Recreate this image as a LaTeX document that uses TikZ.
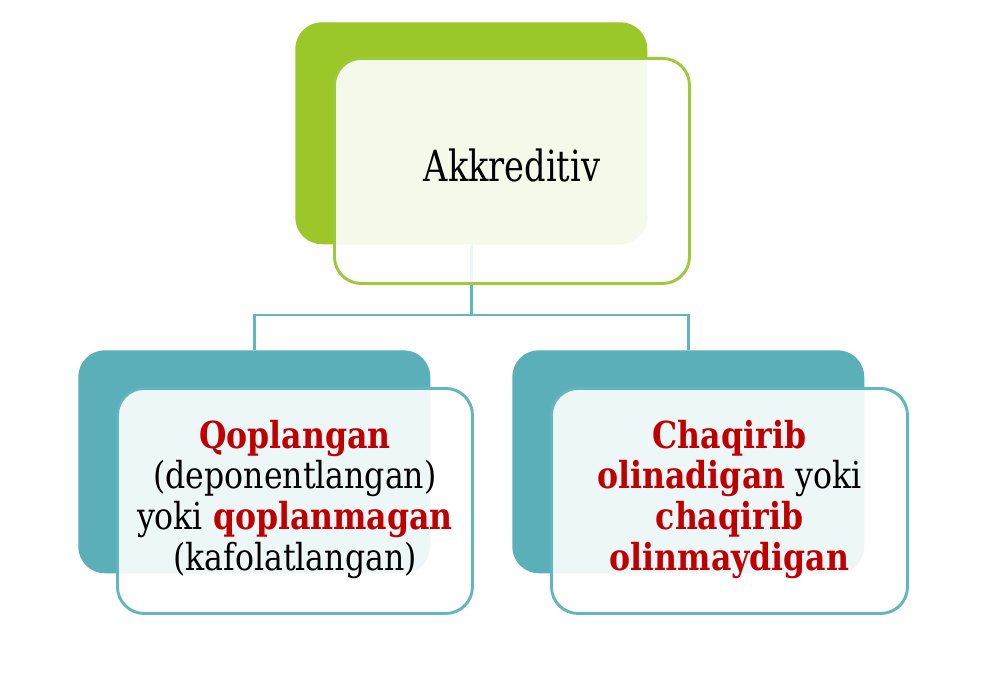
\documentclass[tikz,border=0pt]{standalone}
\usepackage{fontspec}
\setmainfont{DejaVu Serif Condensed}
\usetikzlibrary{positioning}
\definecolor{grn}{RGB}{155,200,40}
\definecolor{grnline}{RGB}{158,202,58}
\definecolor{teal}{RGB}{90,175,185}
\definecolor{tealline}{RGB}{100,182,190}
\definecolor{redtxt}{RGB}{192,0,0}
\tikzset{
  backbox/.style={rounded corners=20, inner sep=0pt, draw=none, anchor=north west},
  frontbox/.style={rounded corners=20, inner sep=0pt, line width=2.2pt, fill=white, fill opacity=0.9, text opacity=1, anchor=north west, align=center},
  conn/.style={draw=tealline, line width=2.2pt}
}
\newcommand{\hlt}[1]{{\bfseries\color{redtxt}#1}}
\newcommand{\stretchtxt}[2]{\scalebox{1}[#1]{\begin{tabular}{@{}c@{}}#2\end{tabular}}}
\begin{document}
\begin{tikzpicture}[x=0.75pt,y=-0.75pt]
\useasboundingbox (0,0) rectangle (1000,692);
% back boxes
\node[backbox, fill=grn, minimum width=352*0.75pt, minimum height=222*0.75pt] (tb) at (295,22) {};
\node[backbox, fill=teal, minimum width=352*0.75pt, minimum height=223*0.75pt] (lb) at (78,350) {};
\node[backbox, fill=teal, minimum width=352*0.75pt, minimum height=223*0.75pt] (rb) at (512,350) {};
% connectors
\coordinate (junc) at (471,315);
\draw[conn] (tb.south) -- (tb.south |- junc) -| (lb.north);
\draw[conn] (tb.south |- junc) -| (rb.north);
% front boxes
\node[frontbox, draw=grnline, minimum width=355*0.75pt, minimum height=225*0.75pt,
      font=\fontsize{28}{33}\selectfont] (tf) at (333,57) {\stretchtxt{1.15}{Akkreditiv}};
\node[frontbox, draw=tealline, minimum width=355*0.75pt, minimum height=225*0.75pt,
      font=\fontsize{26.3}{28.8}\selectfont] (lf) at (116,387)
  {\stretchtxt{1.06}{\hlt{Qoplangan}\\(deponentlangan)\\yoki \hlt{qoplanmagan}\\(kafolatlangan)}};
\node[frontbox, draw=tealline, minimum width=356*0.75pt, minimum height=225*0.75pt,
      font=\fontsize{26.3}{28.8}\selectfont] (rf) at (550,387)
  {\stretchtxt{1.06}{\hlt{Chaqirib}\\\hlt{olinadigan} yoki\\\hlt{chaqirib}\\\hlt{olinmaydigan}}};
\end{tikzpicture}
\end{document}
